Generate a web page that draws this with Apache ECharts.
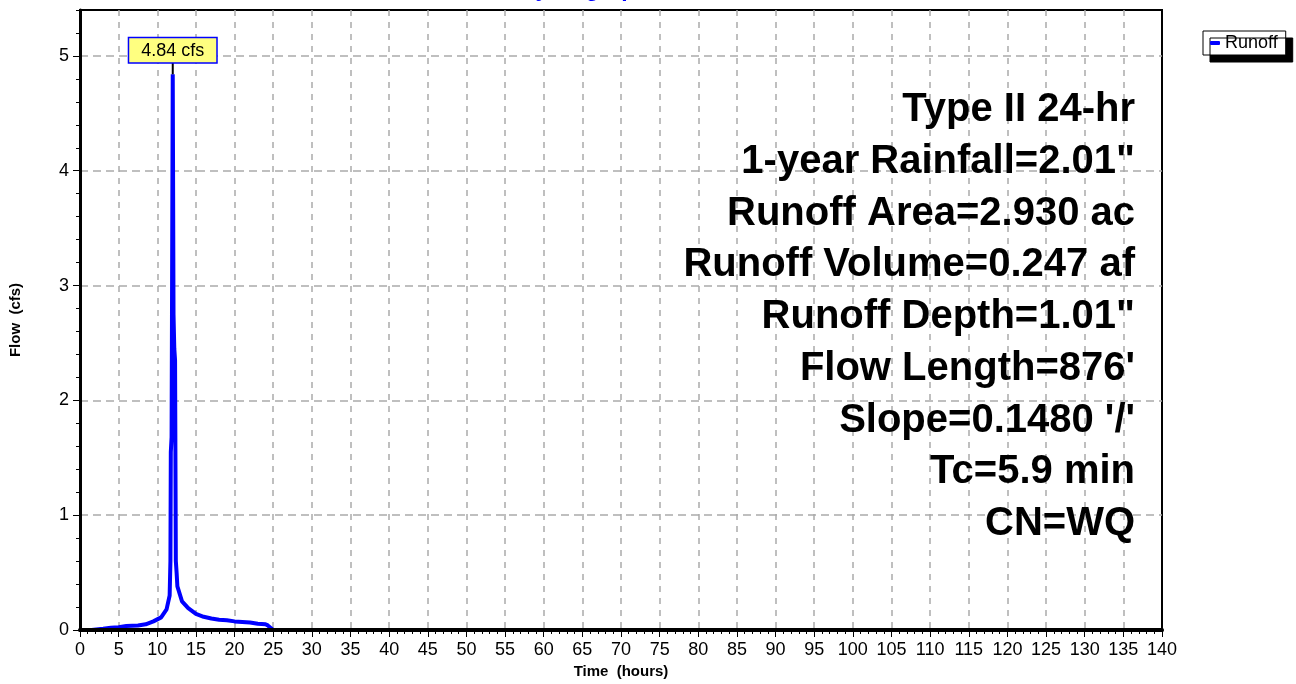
<!DOCTYPE html>
<html><head><meta charset="utf-8">
<script src="https://cdn.jsdelivr.net/npm/echarts@6/dist/echarts.min.js"></script>
<style>html,body{margin:0;padding:0;background:#fff}#c{width:1296px;height:684px}</style>
</head><body><div id="c"></div>
<script>
// ---- data ----
const timeHours = [0, 1.5, 3, 4, 5, 6, 7.5, 8.5, 9.5, 10.5, 11.2, 11.6, 11.7, 11.75, 11.85, 11.9, 12.0, 12.1, 12.2, 12.3, 12.4, 12.5, 12.6, 13.2, 14, 15, 16, 17, 18, 19, 20, 21, 22, 23, 24, 24.3, 25, 140];
const flowCfs   = [0, 0, 0.01, 0.02, 0.025, 0.035, 0.04, 0.05, 0.075, 0.11, 0.18, 0.3, 0.6, 1.55, 1.68, 2.7, 4.84, 2.75, 2.45, 2.35, 0.6, 0.5, 0.38, 0.25, 0.19, 0.14, 0.115, 0.1, 0.09, 0.085, 0.075, 0.07, 0.065, 0.055, 0.05, 0.04, 0, 0];
const seriesName = 'Runoff';
const peakTime = 12.0;
const peakFlow = 4.84;
const peakLabel = '4.84 cfs';
const xMin = 0, xMax = 140, xStep = 5;
const yMin = 0, yMax = 5.4, yStep = 1, yMinorStep = 0.2;
const chartTitle = 'Hydrograph';
const xName = 'Time  (hours)';
const yName = 'Flow  (cfs)';
const infoLines = ['Type II 24-hr', '1-year Rainfall=2.01"', 'Runoff Area=2.930 ac', 'Runoff Volume=0.247 af', 'Runoff Depth=1.01"', "Flow Length=876'", "Slope=0.1480 '/'", 'Tc=5.9 min', 'CN=WQ'];

const FONT = 'Liberation Sans, Arial, sans-serif';
const seriesData = timeHours.map((t, i) => [t, flowCfs[i]]);

const chart = echarts.init(document.getElementById('c'), null, {renderer: 'canvas'});
const option = {
  animation: false,
  backgroundColor: '#fff',
  textStyle: {fontFamily: FONT},
  title: {
    text: chartTitle, left: 519, top: -22, padding: 0,
    textStyle: {fontSize: 23, fontWeight: 'bold', color: '#0000ff', fontFamily: FONT}
  },
  legend: {
    data: [seriesName], left: 1203, top: 31, orient: 'horizontal',
    icon: 'roundRect', itemWidth: 10, itemHeight: 4,
    padding: [3, 8, 3, 7],
    backgroundColor: '#fff', borderColor: '#000', borderWidth: 1,
    shadowColor: '#000', shadowBlur: 0, shadowOffsetX: 7, shadowOffsetY: 7,
    textStyle: {fontSize: 18, color: '#000', fontFamily: FONT}
  },
  grid: {left: 80, right: 134, top: 10, bottom: 52, show: true, borderColor: '#000', borderWidth: 2, backgroundColor: '#fff'},
  xAxis: [{
    type: 'value', min: xMin, max: xMax, interval: xStep, position: 'bottom',
    axisLine: {show: true, onZero: false, lineStyle: {color: '#000', width: 3}},
    axisTick: {show: true, length: 7, lineStyle: {color: '#000', width: 1}},
    minorTick: {show: true, splitNumber: 5, length: 4, lineStyle: {color: '#000', width: 1}},
    axisLabel: {fontSize: 18, color: '#000', margin: 11, fontFamily: FONT},
    splitLine: {show: true, showMinLine: false, showMaxLine: false, lineStyle: {color: '#aaaaaa', width: 1.5, type: [6, 6]}},
    name: xName, nameLocation: 'middle', nameGap: 34,
    nameTextStyle: {fontSize: 15, fontWeight: 'bold', color: '#000', fontFamily: FONT}
  }, {
    type: 'value', min: xMin, max: xMax, position: 'bottom', zlevel: 1, z: 10,
    axisLine: {show: true, onZero: false, lineStyle: {color: '#000', width: 4}},
    axisTick: {show: false}, axisLabel: {show: false}, splitLine: {show: false}
  }],
  yAxis: [{
    type: 'value', min: yMin, max: yMax, interval: yMinorStep, position: 'left',
    axisLine: {show: true, onZero: false, lineStyle: {color: '#000', width: 3}},
    axisTick: {show: true, length: 4, lineStyle: {color: '#000', width: 1}},
    axisLabel: {show: false}, splitLine: {show: false}
  }, {
    type: 'value', min: yMin, max: yMax, interval: yStep, position: 'left',
    axisLine: {show: false},
    axisTick: {show: true, length: 7, lineStyle: {color: '#000', width: 1}},
    axisLabel: {fontSize: 18, color: '#000', margin: 11, showMaxLabel: false, fontFamily: FONT},
    splitLine: {show: true, showMinLine: false, showMaxLine: false, lineStyle: {color: '#aaaaaa', width: 1.5, type: [8, 5]}},
    name: yName, nameLocation: 'middle', nameGap: 57, nameRotate: 90,
    nameTextStyle: {fontSize: 15, fontWeight: 'bold', color: '#000', fontFamily: FONT}
  }],
  series: [{
    name: seriesName, type: 'line', xAxisIndex: 0, yAxisIndex: 0,
    data: seriesData, showSymbol: false, symbol: 'none',
    color: '#0000ff',
    lineStyle: {color: '#0000ff', width: 4},
    markPoint: {
      symbol: 'rect', symbolSize: [2, 12], symbolOffset: [0, -6],
      itemStyle: {color: '#000'},
      label: {
        show: true, position: 'top', distance: 0,
        formatter: peakLabel, fontSize: 18, color: '#000', fontFamily: FONT,
        backgroundColor: '#ffff80', borderColor: '#0000ff', borderWidth: 1.5,
        padding: [3, 12, 2, 12], lineHeight: 19
      },
      data: [{coord: [peakTime, peakFlow]}]
    }
  }],
  graphic: infoLines.map((s, i) => ({
    type: 'text', z: 50,
    style: {
      text: s, x: 1135, y: 110 + i * 51.75,
      textAlign: 'right', textVerticalAlign: 'middle',
      font: 'bold 40px ' + FONT, fill: '#000'
    }
  }))
};
chart.setOption(option);
</script></body></html>
